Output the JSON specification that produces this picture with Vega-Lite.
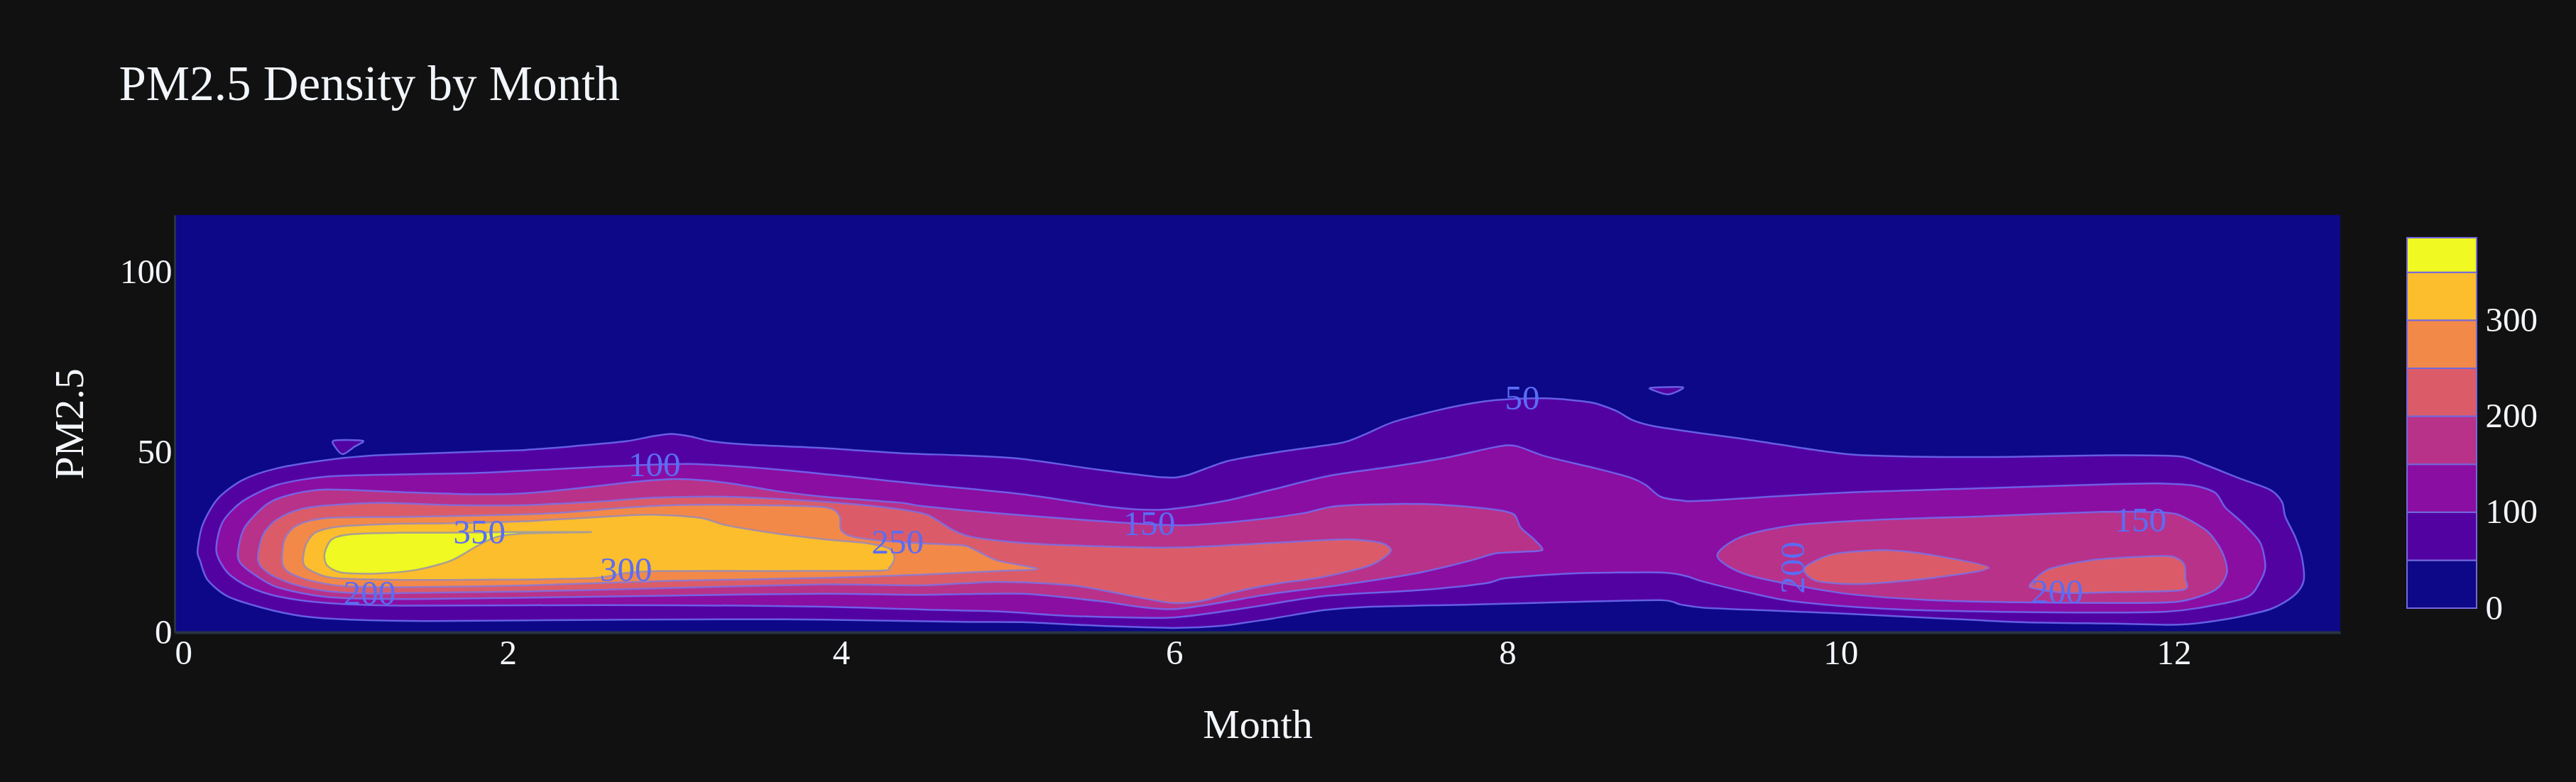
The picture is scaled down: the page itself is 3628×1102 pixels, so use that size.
{
  "$schema": "https://vega.github.io/schema/vega-lite/v6.json",
  "background": "#111111",
  "padding": {"left": 70, "top": 86, "right": 55, "bottom": 51},
  "title": {
    "text": "PM2.5 Density by Month",
    "anchor": "start",
    "frame": "bounds",
    "dx": 97,
    "offset": 148,
    "font": "Liberation Serif",
    "fontSize": 69,
    "fontWeight": "normal",
    "color": "#f2f5fa"
  },
  "datasets": {
    "contours": [
      {"level": 50, "piece": "a", "i": 0, "month": 0.137, "pm25": 22.5},
      {"level": 50, "piece": "a", "i": 1, "month": 0.167, "pm25": 29.7},
      {"level": 50, "piece": "a", "i": 2, "month": 0.256, "pm25": 36.9},
      {"level": 50, "piece": "a", "i": 3, "month": 0.406, "pm25": 42.2},
      {"level": 50, "piece": "a", "i": 4, "month": 0.615, "pm25": 45.5},
      {"level": 50, "piece": "a", "i": 5, "month": 0.914, "pm25": 47.8},
      {"level": 50, "piece": "a", "i": 6, "month": 1.213, "pm25": 49.1},
      {"level": 50, "piece": "a", "i": 7, "month": 1.512, "pm25": 49.6},
      {"level": 50, "piece": "a", "i": 8, "month": 1.81, "pm25": 50.1},
      {"level": 50, "piece": "a", "i": 9, "month": 2.11, "pm25": 50.6},
      {"level": 50, "piece": "a", "i": 10, "month": 2.41, "pm25": 51.7},
      {"level": 50, "piece": "a", "i": 11, "month": 2.71, "pm25": 53.0},
      {"level": 50, "piece": "a", "i": 12, "month": 2.86, "pm25": 54.3},
      {"level": 50, "piece": "a", "i": 13, "month": 2.98, "pm25": 55.0},
      {"level": 50, "piece": "a", "i": 14, "month": 3.10, "pm25": 54.3},
      {"level": 50, "piece": "a", "i": 15, "month": 3.22, "pm25": 53.0},
      {"level": 50, "piece": "a", "i": 16, "month": 3.46, "pm25": 52.0},
      {"level": 50, "piece": "a", "i": 17, "month": 3.90, "pm25": 51.1},
      {"level": 50, "piece": "a", "i": 18, "month": 4.35, "pm25": 49.7},
      {"level": 50, "piece": "a", "i": 19, "month": 4.71, "pm25": 49.1},
      {"level": 50, "piece": "a", "i": 20, "month": 5.07, "pm25": 48.2},
      {"level": 50, "piece": "a", "i": 21, "month": 5.50, "pm25": 45.4},
      {"level": 50, "piece": "a", "i": 22, "month": 5.93, "pm25": 43.0},
      {"level": 50, "piece": "a", "i": 23, "month": 6.08, "pm25": 43.6},
      {"level": 50, "piece": "a", "i": 24, "month": 6.32, "pm25": 47.5},
      {"level": 50, "piece": "a", "i": 25, "month": 6.65, "pm25": 50.2},
      {"level": 50, "piece": "a", "i": 26, "month": 7.0, "pm25": 52.5},
      {"level": 50, "piece": "a", "i": 27, "month": 7.15, "pm25": 55.0},
      {"level": 50, "piece": "a", "i": 28, "month": 7.32, "pm25": 58.4},
      {"level": 50, "piece": "a", "i": 29, "month": 7.64, "pm25": 62.2},
      {"level": 50, "piece": "a", "i": 30, "month": 7.93, "pm25": 64.4},
      {"level": 50, "piece": "a", "i": 31, "month": 8.23, "pm25": 64.9},
      {"level": 50, "piece": "a", "i": 32, "month": 8.50, "pm25": 63.8},
      {"level": 50, "piece": "a", "i": 33, "month": 8.65, "pm25": 61.5},
      {"level": 50, "piece": "a", "i": 34, "month": 8.75, "pm25": 58.9},
      {"level": 50, "piece": "a", "i": 35, "month": 8.88, "pm25": 57.2},
      {"level": 50, "piece": "a", "i": 36, "month": 9.18, "pm25": 55.1},
      {"level": 50, "piece": "a", "i": 37, "month": 9.45, "pm25": 53.4},
      {"level": 50, "piece": "a", "i": 38, "month": 9.86, "pm25": 50.5},
      {"level": 50, "piece": "a", "i": 39, "month": 10.13, "pm25": 49.1},
      {"level": 50, "piece": "a", "i": 40, "month": 10.81, "pm25": 48.6},
      {"level": 50, "piece": "a", "i": 41, "month": 11.63, "pm25": 49.1},
      {"level": 50, "piece": "a", "i": 42, "month": 12.03, "pm25": 48.8},
      {"level": 50, "piece": "a", "i": 43, "month": 12.17, "pm25": 46.8},
      {"level": 50, "piece": "a", "i": 44, "month": 12.39, "pm25": 42.8},
      {"level": 50, "piece": "a", "i": 45, "month": 12.58, "pm25": 39.5},
      {"level": 50, "piece": "a", "i": 46, "month": 12.65, "pm25": 36.2},
      {"level": 50, "piece": "a", "i": 47, "month": 12.67, "pm25": 32.1},
      {"level": 50, "piece": "a", "i": 48, "month": 12.73, "pm25": 26.4},
      {"level": 50, "piece": "a", "i": 49, "month": 12.77, "pm25": 20.7},
      {"level": 50, "piece": "a", "i": 50, "month": 12.78, "pm25": 14.2},
      {"level": 50, "piece": "a", "i": 51, "month": 12.72, "pm25": 10.1},
      {"level": 50, "piece": "a", "i": 52, "month": 12.58, "pm25": 6.4},
      {"level": 50, "piece": "a", "i": 53, "month": 12.31, "pm25": 3.6},
      {"level": 50, "piece": "a", "i": 54, "month": 12.03, "pm25": 2.1},
      {"level": 50, "piece": "a", "i": 55, "month": 11.63, "pm25": 2.4},
      {"level": 50, "piece": "a", "i": 56, "month": 11.08, "pm25": 2.8},
      {"level": 50, "piece": "a", "i": 57, "month": 10.54, "pm25": 4.0},
      {"level": 50, "piece": "a", "i": 58, "month": 10.0, "pm25": 5.2},
      {"level": 50, "piece": "a", "i": 59, "month": 9.59, "pm25": 6.0},
      {"level": 50, "piece": "a", "i": 60, "month": 9.18, "pm25": 6.8},
      {"level": 50, "piece": "a", "i": 61, "month": 9.04, "pm25": 7.7},
      {"level": 50, "piece": "a", "i": 62, "month": 8.92, "pm25": 8.9},
      {"level": 50, "piece": "a", "i": 63, "month": 8.38, "pm25": 8.4},
      {"level": 50, "piece": "a", "i": 64, "month": 7.78, "pm25": 7.7},
      {"level": 50, "piece": "a", "i": 65, "month": 7.18, "pm25": 7.1},
      {"level": 50, "piece": "a", "i": 66, "month": 6.89, "pm25": 6.1},
      {"level": 50, "piece": "a", "i": 67, "month": 6.59, "pm25": 3.8},
      {"level": 50, "piece": "a", "i": 68, "month": 6.29, "pm25": 1.8},
      {"level": 50, "piece": "a", "i": 69, "month": 5.99, "pm25": 1.2},
      {"level": 50, "piece": "a", "i": 70, "month": 5.54, "pm25": 1.8},
      {"level": 50, "piece": "a", "i": 71, "month": 5.09, "pm25": 2.8},
      {"level": 50, "piece": "a", "i": 72, "month": 4.71, "pm25": 2.9},
      {"level": 50, "piece": "a", "i": 73, "month": 3.90, "pm25": 3.5},
      {"level": 50, "piece": "a", "i": 74, "month": 3.31, "pm25": 3.6},
      {"level": 50, "piece": "a", "i": 75, "month": 2.71, "pm25": 3.5},
      {"level": 50, "piece": "a", "i": 76, "month": 2.11, "pm25": 3.3},
      {"level": 50, "piece": "a", "i": 77, "month": 1.51, "pm25": 3.1},
      {"level": 50, "piece": "a", "i": 78, "month": 1.06, "pm25": 3.5},
      {"level": 50, "piece": "a", "i": 79, "month": 0.765, "pm25": 4.5},
      {"level": 50, "piece": "a", "i": 80, "month": 0.526, "pm25": 6.8},
      {"level": 50, "piece": "a", "i": 81, "month": 0.316, "pm25": 10.0},
      {"level": 50, "piece": "a", "i": 82, "month": 0.196, "pm25": 14.6},
      {"level": 50, "piece": "a", "i": 83, "month": 0.152, "pm25": 19.9},
      {"level": 50, "piece": "b", "i": 0, "month": 0.957, "pm25": 53.2},
      {"level": 50, "piece": "b", "i": 1, "month": 1.13, "pm25": 53.1},
      {"level": 50, "piece": "b", "i": 2, "month": 1.08, "pm25": 51.5},
      {"level": 50, "piece": "b", "i": 3, "month": 1.01, "pm25": 49.4},
      {"level": 50, "piece": "b", "i": 4, "month": 0.965, "pm25": 51.3},
      {"level": 50, "piece": "c", "i": 0, "month": 8.86, "pm25": 67.8},
      {"level": 50, "piece": "c", "i": 1, "month": 9.05, "pm25": 68.0},
      {"level": 50, "piece": "c", "i": 2, "month": 9.02, "pm25": 66.8},
      {"level": 50, "piece": "c", "i": 3, "month": 8.96, "pm25": 66.0},
      {"level": 50, "piece": "c", "i": 4, "month": 8.89, "pm25": 66.9},
      {"level": 100, "piece": "a", "i": 0, "month": 0.25, "pm25": 22.5},
      {"level": 100, "piece": "a", "i": 1, "month": 0.286, "pm25": 30.4},
      {"level": 100, "piece": "a", "i": 2, "month": 0.406, "pm25": 36.3},
      {"level": 100, "piece": "a", "i": 3, "month": 0.615, "pm25": 40.9},
      {"level": 100, "piece": "a", "i": 4, "month": 0.914, "pm25": 43.2},
      {"level": 100, "piece": "a", "i": 5, "month": 1.363, "pm25": 43.8},
      {"level": 100, "piece": "a", "i": 6, "month": 1.81, "pm25": 44.2},
      {"level": 100, "piece": "a", "i": 7, "month": 2.26, "pm25": 45.2},
      {"level": 100, "piece": "a", "i": 8, "month": 2.65, "pm25": 46.1},
      {"level": 100, "piece": "a", "i": 9, "month": 3.10, "pm25": 46.7},
      {"level": 100, "piece": "a", "i": 10, "month": 3.61, "pm25": 45.2},
      {"level": 100, "piece": "a", "i": 11, "month": 4.05, "pm25": 43.2},
      {"level": 100, "piece": "a", "i": 12, "month": 4.50, "pm25": 41.0},
      {"level": 100, "piece": "a", "i": 13, "month": 5.09, "pm25": 38.3},
      {"level": 100, "piece": "a", "i": 14, "month": 5.63, "pm25": 34.7},
      {"level": 100, "piece": "a", "i": 15, "month": 5.93, "pm25": 34.0},
      {"level": 100, "piece": "a", "i": 16, "month": 6.29, "pm25": 36.3},
      {"level": 100, "piece": "a", "i": 17, "month": 6.59, "pm25": 39.6},
      {"level": 100, "piece": "a", "i": 18, "month": 6.94, "pm25": 43.5},
      {"level": 100, "piece": "a", "i": 19, "month": 7.33, "pm25": 46.1},
      {"level": 100, "piece": "a", "i": 20, "month": 7.63, "pm25": 48.4},
      {"level": 100, "piece": "a", "i": 21, "month": 7.93, "pm25": 51.4},
      {"level": 100, "piece": "a", "i": 22, "month": 8.05, "pm25": 51.7},
      {"level": 100, "piece": "a", "i": 23, "month": 8.23, "pm25": 48.8},
      {"level": 100, "piece": "a", "i": 24, "month": 8.53, "pm25": 45.5},
      {"level": 100, "piece": "a", "i": 25, "month": 8.74, "pm25": 42.9},
      {"level": 100, "piece": "a", "i": 26, "month": 8.83, "pm25": 40.9},
      {"level": 100, "piece": "a", "i": 27, "month": 8.92, "pm25": 37.6},
      {"level": 100, "piece": "a", "i": 28, "month": 9.04, "pm25": 36.6},
      {"level": 100, "piece": "a", "i": 29, "month": 9.18, "pm25": 36.5},
      {"level": 100, "piece": "a", "i": 30, "month": 10.0, "pm25": 38.7},
      {"level": 100, "piece": "a", "i": 31, "month": 10.81, "pm25": 39.9},
      {"level": 100, "piece": "a", "i": 32, "month": 11.63, "pm25": 41.1},
      {"level": 100, "piece": "a", "i": 33, "month": 11.90, "pm25": 41.3},
      {"level": 100, "piece": "a", "i": 34, "month": 12.12, "pm25": 40.7},
      {"level": 100, "piece": "a", "i": 35, "month": 12.25, "pm25": 38.7},
      {"level": 100, "piece": "a", "i": 36, "month": 12.31, "pm25": 34.6},
      {"level": 100, "piece": "a", "i": 37, "month": 12.41, "pm25": 30.5},
      {"level": 100, "piece": "a", "i": 38, "month": 12.52, "pm25": 24.8},
      {"level": 100, "piece": "a", "i": 39, "month": 12.55, "pm25": 18.3},
      {"level": 100, "piece": "a", "i": 40, "month": 12.52, "pm25": 14.2},
      {"level": 100, "piece": "a", "i": 41, "month": 12.44, "pm25": 9.7},
      {"level": 100, "piece": "a", "i": 42, "month": 12.17, "pm25": 6.9},
      {"level": 100, "piece": "a", "i": 43, "month": 11.90, "pm25": 5.6},
      {"level": 100, "piece": "a", "i": 44, "month": 11.08, "pm25": 5.6},
      {"level": 100, "piece": "a", "i": 45, "month": 10.27, "pm25": 6.5},
      {"level": 100, "piece": "a", "i": 46, "month": 9.73, "pm25": 8.5},
      {"level": 100, "piece": "a", "i": 47, "month": 9.45, "pm25": 11.0},
      {"level": 100, "piece": "a", "i": 48, "month": 9.18, "pm25": 14.0},
      {"level": 100, "piece": "a", "i": 49, "month": 9.07, "pm25": 15.6},
      {"level": 100, "piece": "a", "i": 50, "month": 8.92, "pm25": 16.6},
      {"level": 100, "piece": "a", "i": 51, "month": 8.38, "pm25": 16.3},
      {"level": 100, "piece": "a", "i": 52, "month": 7.99, "pm25": 15.0},
      {"level": 100, "piece": "a", "i": 53, "month": 7.87, "pm25": 13.6},
      {"level": 100, "piece": "a", "i": 54, "month": 7.48, "pm25": 11.7},
      {"level": 100, "piece": "a", "i": 55, "month": 6.89, "pm25": 10.0},
      {"level": 100, "piece": "a", "i": 56, "month": 6.44, "pm25": 6.8},
      {"level": 100, "piece": "a", "i": 57, "month": 5.99, "pm25": 4.1},
      {"level": 100, "piece": "a", "i": 58, "month": 5.39, "pm25": 4.5},
      {"level": 100, "piece": "a", "i": 59, "month": 4.94, "pm25": 5.8},
      {"level": 100, "piece": "a", "i": 60, "month": 4.49, "pm25": 6.3},
      {"level": 100, "piece": "a", "i": 61, "month": 3.90, "pm25": 7.1},
      {"level": 100, "piece": "a", "i": 62, "month": 3.01, "pm25": 7.5},
      {"level": 100, "piece": "a", "i": 63, "month": 2.11, "pm25": 7.5},
      {"level": 100, "piece": "a", "i": 64, "month": 1.36, "pm25": 7.4},
      {"level": 100, "piece": "a", "i": 65, "month": 0.914, "pm25": 8.1},
      {"level": 100, "piece": "a", "i": 66, "month": 0.615, "pm25": 10.0},
      {"level": 100, "piece": "a", "i": 67, "month": 0.44, "pm25": 12.7},
      {"level": 100, "piece": "a", "i": 68, "month": 0.316, "pm25": 16.6},
      {"level": 150, "piece": "a", "i": 0, "month": 0.38, "pm25": 22.5},
      {"level": 150, "piece": "a", "i": 1, "month": 0.42, "pm25": 29.1},
      {"level": 150, "piece": "a", "i": 2, "month": 0.555, "pm25": 35.6},
      {"level": 150, "piece": "a", "i": 3, "month": 0.705, "pm25": 38.3},
      {"level": 150, "piece": "a", "i": 4, "month": 0.914, "pm25": 39.6},
      {"level": 150, "piece": "a", "i": 5, "month": 1.363, "pm25": 38.9},
      {"level": 150, "piece": "a", "i": 6, "month": 1.81, "pm25": 38.3},
      {"level": 150, "piece": "a", "i": 7, "month": 2.11, "pm25": 38.6},
      {"level": 150, "piece": "a", "i": 8, "month": 2.41, "pm25": 39.9},
      {"level": 150, "piece": "a", "i": 9, "month": 2.71, "pm25": 41.5},
      {"level": 150, "piece": "a", "i": 10, "month": 3.01, "pm25": 42.5},
      {"level": 150, "piece": "a", "i": 11, "month": 3.31, "pm25": 41.5},
      {"level": 150, "piece": "a", "i": 12, "month": 3.61, "pm25": 39.2},
      {"level": 150, "piece": "a", "i": 13, "month": 3.90, "pm25": 37.6},
      {"level": 150, "piece": "a", "i": 14, "month": 4.35, "pm25": 36.0},
      {"level": 150, "piece": "a", "i": 15, "month": 4.49, "pm25": 35.0},
      {"level": 150, "piece": "a", "i": 16, "month": 4.94, "pm25": 33.0},
      {"level": 150, "piece": "a", "i": 17, "month": 5.39, "pm25": 31.4},
      {"level": 150, "piece": "a", "i": 18, "month": 5.69, "pm25": 30.4},
      {"level": 150, "piece": "a", "i": 19, "month": 6.05, "pm25": 29.7},
      {"level": 150, "piece": "a", "i": 20, "month": 6.44, "pm25": 31.0},
      {"level": 150, "piece": "a", "i": 21, "month": 6.77, "pm25": 33.0},
      {"level": 150, "piece": "a", "i": 22, "month": 6.97, "pm25": 35.0},
      {"level": 150, "piece": "a", "i": 23, "month": 7.33, "pm25": 35.6},
      {"level": 150, "piece": "a", "i": 24, "month": 7.63, "pm25": 35.3},
      {"level": 150, "piece": "a", "i": 25, "month": 7.93, "pm25": 34.0},
      {"level": 150, "piece": "a", "i": 26, "month": 8.04, "pm25": 32.7},
      {"level": 150, "piece": "a", "i": 27, "month": 8.08, "pm25": 29.1},
      {"level": 150, "piece": "a", "i": 28, "month": 8.16, "pm25": 25.8},
      {"level": 150, "piece": "a", "i": 29, "month": 8.21, "pm25": 22.8},
      {"level": 150, "piece": "a", "i": 30, "month": 8.08, "pm25": 22.3},
      {"level": 150, "piece": "a", "i": 31, "month": 7.93, "pm25": 21.9},
      {"level": 150, "piece": "a", "i": 32, "month": 7.78, "pm25": 19.9},
      {"level": 150, "piece": "a", "i": 33, "month": 7.48, "pm25": 16.6},
      {"level": 150, "piece": "a", "i": 34, "month": 7.03, "pm25": 13.3},
      {"level": 150, "piece": "a", "i": 35, "month": 6.59, "pm25": 10.7},
      {"level": 150, "piece": "a", "i": 36, "month": 5.99, "pm25": 6.4},
      {"level": 150, "piece": "a", "i": 37, "month": 5.54, "pm25": 8.7},
      {"level": 150, "piece": "a", "i": 38, "month": 5.09, "pm25": 10.7},
      {"level": 150, "piece": "a", "i": 39, "month": 4.49, "pm25": 10.4},
      {"level": 150, "piece": "a", "i": 40, "month": 3.90, "pm25": 10.7},
      {"level": 150, "piece": "a", "i": 41, "month": 3.01, "pm25": 10.2},
      {"level": 150, "piece": "a", "i": 42, "month": 2.11, "pm25": 9.6},
      {"level": 150, "piece": "a", "i": 43, "month": 1.36, "pm25": 9.2},
      {"level": 150, "piece": "a", "i": 44, "month": 0.914, "pm25": 9.8},
      {"level": 150, "piece": "a", "i": 45, "month": 0.615, "pm25": 12.5},
      {"level": 150, "piece": "a", "i": 46, "month": 0.46, "pm25": 16.6},
      {"level": 150, "piece": "a", "i": 47, "month": 0.39, "pm25": 19.5},
      {"level": 150, "piece": "b", "i": 0, "month": 9.26, "pm25": 21.1},
      {"level": 150, "piece": "b", "i": 1, "month": 9.40, "pm25": 26.4},
      {"level": 150, "piece": "b", "i": 2, "month": 9.72, "pm25": 29.7},
      {"level": 150, "piece": "b", "i": 3, "month": 10.27, "pm25": 31.3},
      {"level": 150, "piece": "b", "i": 4, "month": 10.81, "pm25": 32.1},
      {"level": 150, "piece": "b", "i": 5, "month": 11.57, "pm25": 33.4},
      {"level": 150, "piece": "b", "i": 6, "month": 11.9, "pm25": 33.3},
      {"level": 150, "piece": "b", "i": 7, "month": 12.03, "pm25": 32.6},
      {"level": 150, "piece": "b", "i": 8, "month": 12.20, "pm25": 28.1},
      {"level": 150, "piece": "b", "i": 9, "month": 12.29, "pm25": 22.4},
      {"level": 150, "piece": "b", "i": 10, "month": 12.32, "pm25": 16.6},
      {"level": 150, "piece": "b", "i": 11, "month": 12.25, "pm25": 11.8},
      {"level": 150, "piece": "b", "i": 12, "month": 12.03, "pm25": 8.5},
      {"level": 150, "piece": "b", "i": 13, "month": 11.63, "pm25": 8.1},
      {"level": 150, "piece": "b", "i": 14, "month": 11.08, "pm25": 8.3},
      {"level": 150, "piece": "b", "i": 15, "month": 10.54, "pm25": 8.9},
      {"level": 150, "piece": "b", "i": 16, "month": 10.0, "pm25": 10.9},
      {"level": 150, "piece": "b", "i": 17, "month": 9.45, "pm25": 15.8},
      {"level": 200, "piece": "a", "i": 0, "month": 0.50, "pm25": 20.0},
      {"level": 200, "piece": "a", "i": 1, "month": 0.53, "pm25": 27.0},
      {"level": 200, "piece": "a", "i": 2, "month": 0.62, "pm25": 31.5},
      {"level": 200, "piece": "a", "i": 3, "month": 0.80, "pm25": 34.6},
      {"level": 200, "piece": "a", "i": 4, "month": 1.2, "pm25": 35.9},
      {"level": 200, "piece": "a", "i": 5, "month": 1.66, "pm25": 35.3},
      {"level": 200, "piece": "a", "i": 6, "month": 2.11, "pm25": 35.3},
      {"level": 200, "piece": "a", "i": 7, "month": 2.56, "pm25": 36.3},
      {"level": 200, "piece": "a", "i": 8, "month": 2.86, "pm25": 37.3},
      {"level": 200, "piece": "a", "i": 9, "month": 3.31, "pm25": 37.6},
      {"level": 200, "piece": "a", "i": 10, "month": 3.76, "pm25": 36.6},
      {"level": 200, "piece": "a", "i": 11, "month": 4.2, "pm25": 35.0},
      {"level": 200, "piece": "a", "i": 12, "month": 4.49, "pm25": 33.0},
      {"level": 200, "piece": "a", "i": 13, "month": 4.58, "pm25": 31.0},
      {"level": 200, "piece": "a", "i": 14, "month": 4.67, "pm25": 28.4},
      {"level": 200, "piece": "a", "i": 15, "month": 4.79, "pm25": 26.4},
      {"level": 200, "piece": "a", "i": 16, "month": 5.09, "pm25": 24.8},
      {"level": 200, "piece": "a", "i": 17, "month": 5.39, "pm25": 24.1},
      {"level": 200, "piece": "a", "i": 18, "month": 5.99, "pm25": 23.5},
      {"level": 200, "piece": "a", "i": 19, "month": 6.59, "pm25": 24.8},
      {"level": 200, "piece": "a", "i": 20, "month": 7.03, "pm25": 25.8},
      {"level": 200, "piece": "a", "i": 21, "month": 7.24, "pm25": 24.8},
      {"level": 200, "piece": "a", "i": 22, "month": 7.30, "pm25": 22.5},
      {"level": 200, "piece": "a", "i": 23, "month": 7.18, "pm25": 18.6},
      {"level": 200, "piece": "a", "i": 24, "month": 6.89, "pm25": 15.3},
      {"level": 200, "piece": "a", "i": 25, "month": 6.59, "pm25": 13.3},
      {"level": 200, "piece": "a", "i": 26, "month": 6.35, "pm25": 11.0},
      {"level": 200, "piece": "a", "i": 27, "month": 6.17, "pm25": 8.7},
      {"level": 200, "piece": "a", "i": 28, "month": 5.99, "pm25": 8.1},
      {"level": 200, "piece": "a", "i": 29, "month": 5.75, "pm25": 10.0},
      {"level": 200, "piece": "a", "i": 30, "month": 5.39, "pm25": 13.0},
      {"level": 200, "piece": "a", "i": 31, "month": 4.94, "pm25": 14.0},
      {"level": 200, "piece": "a", "i": 32, "month": 4.49, "pm25": 13.0},
      {"level": 200, "piece": "a", "i": 33, "month": 3.90, "pm25": 13.3},
      {"level": 200, "piece": "a", "i": 34, "month": 3.0, "pm25": 12.3},
      {"level": 200, "piece": "a", "i": 35, "month": 2.11, "pm25": 11.3},
      {"level": 200, "piece": "a", "i": 36, "month": 1.36, "pm25": 10.9},
      {"level": 200, "piece": "a", "i": 37, "month": 1.17, "pm25": 10.7},
      {"level": 200, "piece": "a", "i": 38, "month": 0.9, "pm25": 11.5},
      {"level": 200, "piece": "a", "i": 39, "month": 0.7, "pm25": 13.5},
      {"level": 200, "piece": "a", "i": 40, "month": 0.56, "pm25": 16.5},
      {"level": 200, "piece": "b", "i": 0, "month": 9.78, "pm25": 17.5},
      {"level": 200, "piece": "b", "i": 1, "month": 9.88, "pm25": 20.5},
      {"level": 200, "piece": "b", "i": 2, "month": 10.0, "pm25": 22.0},
      {"level": 200, "piece": "b", "i": 3, "month": 10.27, "pm25": 22.8},
      {"level": 200, "piece": "b", "i": 4, "month": 10.54, "pm25": 21.5},
      {"level": 200, "piece": "b", "i": 5, "month": 10.89, "pm25": 17.9},
      {"level": 200, "piece": "b", "i": 6, "month": 10.54, "pm25": 15.0},
      {"level": 200, "piece": "b", "i": 7, "month": 10.13, "pm25": 13.4},
      {"level": 200, "piece": "b", "i": 8, "month": 9.86, "pm25": 14.2},
      {"level": 200, "piece": "c", "i": 0, "month": 11.14, "pm25": 13.4},
      {"level": 200, "piece": "c", "i": 1, "month": 11.25, "pm25": 17.5},
      {"level": 200, "piece": "c", "i": 2, "month": 11.49, "pm25": 19.9},
      {"level": 200, "piece": "c", "i": 3, "month": 11.77, "pm25": 20.9},
      {"level": 200, "piece": "c", "i": 4, "month": 11.98, "pm25": 21.1},
      {"level": 200, "piece": "c", "i": 5, "month": 12.06, "pm25": 19.1},
      {"level": 200, "piece": "c", "i": 6, "month": 12.07, "pm25": 15.0},
      {"level": 200, "piece": "c", "i": 7, "month": 12.05, "pm25": 11.7},
      {"level": 200, "piece": "c", "i": 8, "month": 11.63, "pm25": 11.1},
      {"level": 200, "piece": "c", "i": 9, "month": 11.36, "pm25": 10.9},
      {"level": 200, "piece": "c", "i": 10, "month": 11.16, "pm25": 12.2},
      {"level": 250, "piece": "a", "i": 0, "month": 0.645, "pm25": 19.5},
      {"level": 250, "piece": "a", "i": 1, "month": 0.66, "pm25": 25.8},
      {"level": 250, "piece": "a", "i": 2, "month": 0.735, "pm25": 29.7},
      {"level": 250, "piece": "a", "i": 3, "month": 0.914, "pm25": 31.7},
      {"level": 250, "piece": "a", "i": 4, "month": 1.36, "pm25": 32.0},
      {"level": 250, "piece": "a", "i": 5, "month": 1.81, "pm25": 32.4},
      {"level": 250, "piece": "a", "i": 6, "month": 2.26, "pm25": 33.0},
      {"level": 250, "piece": "a", "i": 7, "month": 2.71, "pm25": 34.6},
      {"level": 250, "piece": "a", "i": 8, "month": 3.01, "pm25": 35.3},
      {"level": 250, "piece": "a", "i": 9, "month": 3.46, "pm25": 35.3},
      {"level": 250, "piece": "a", "i": 10, "month": 3.90, "pm25": 34.7},
      {"level": 250, "piece": "a", "i": 11, "month": 3.99, "pm25": 32.4},
      {"level": 250, "piece": "a", "i": 12, "month": 4.0, "pm25": 28.4},
      {"level": 250, "piece": "a", "i": 13, "month": 4.08, "pm25": 26.4},
      {"level": 250, "piece": "a", "i": 14, "month": 4.35, "pm25": 25.0},
      {"level": 250, "piece": "a", "i": 15, "month": 4.71, "pm25": 24.2},
      {"level": 250, "piece": "a", "i": 16, "month": 4.79, "pm25": 23.2},
      {"level": 250, "piece": "a", "i": 17, "month": 4.94, "pm25": 19.9},
      {"level": 250, "piece": "a", "i": 18, "month": 5.18, "pm25": 17.6},
      {"level": 250, "piece": "a", "i": 19, "month": 4.94, "pm25": 17.0},
      {"level": 250, "piece": "a", "i": 20, "month": 4.49, "pm25": 16.0},
      {"level": 250, "piece": "a", "i": 21, "month": 3.9, "pm25": 15.1},
      {"level": 250, "piece": "a", "i": 22, "month": 3.0, "pm25": 14.3},
      {"level": 250, "piece": "a", "i": 23, "month": 2.11, "pm25": 13.0},
      {"level": 250, "piece": "a", "i": 24, "month": 1.36, "pm25": 12.5},
      {"level": 250, "piece": "a", "i": 25, "month": 1.0, "pm25": 12.9},
      {"level": 250, "piece": "a", "i": 26, "month": 0.8, "pm25": 14.5},
      {"level": 250, "piece": "a", "i": 27, "month": 0.68, "pm25": 16.8},
      {"level": 300, "piece": "a", "i": 0, "month": 0.77, "pm25": 20.0},
      {"level": 300, "piece": "a", "i": 1, "month": 0.79, "pm25": 24.5},
      {"level": 300, "piece": "a", "i": 2, "month": 0.85, "pm25": 27.8},
      {"level": 300, "piece": "a", "i": 3, "month": 1.0, "pm25": 29.4},
      {"level": 300, "piece": "a", "i": 4, "month": 1.36, "pm25": 30.1},
      {"level": 300, "piece": "a", "i": 5, "month": 1.63, "pm25": 30.2},
      {"level": 300, "piece": "a", "i": 6, "month": 2.05, "pm25": 30.7},
      {"level": 300, "piece": "a", "i": 7, "month": 2.41, "pm25": 31.6},
      {"level": 300, "piece": "a", "i": 8, "month": 2.71, "pm25": 32.4},
      {"level": 300, "piece": "a", "i": 9, "month": 2.89, "pm25": 32.6},
      {"level": 300, "piece": "a", "i": 10, "month": 3.16, "pm25": 31.7},
      {"level": 300, "piece": "a", "i": 11, "month": 3.31, "pm25": 29.7},
      {"level": 300, "piece": "a", "i": 12, "month": 3.61, "pm25": 27.4},
      {"level": 300, "piece": "a", "i": 13, "month": 3.90, "pm25": 25.8},
      {"level": 300, "piece": "a", "i": 14, "month": 4.14, "pm25": 24.8},
      {"level": 300, "piece": "a", "i": 15, "month": 4.29, "pm25": 23.2},
      {"level": 300, "piece": "a", "i": 16, "month": 4.32, "pm25": 20.5},
      {"level": 300, "piece": "a", "i": 17, "month": 4.29, "pm25": 17.9},
      {"level": 300, "piece": "a", "i": 18, "month": 4.23, "pm25": 17.1},
      {"level": 300, "piece": "a", "i": 19, "month": 3.61, "pm25": 17.0},
      {"level": 300, "piece": "a", "i": 20, "month": 2.92, "pm25": 17.0},
      {"level": 300, "piece": "a", "i": 21, "month": 2.7, "pm25": 16.4},
      {"level": 300, "piece": "a", "i": 22, "month": 2.5, "pm25": 15.0},
      {"level": 300, "piece": "a", "i": 23, "month": 1.9, "pm25": 14.6},
      {"level": 300, "piece": "a", "i": 24, "month": 1.39, "pm25": 14.5},
      {"level": 300, "piece": "a", "i": 25, "month": 1.0, "pm25": 14.9},
      {"level": 300, "piece": "a", "i": 26, "month": 0.88, "pm25": 15.8},
      {"level": 300, "piece": "a", "i": 27, "month": 0.79, "pm25": 17.9},
      {"level": 350, "piece": "a", "i": 0, "month": 0.90, "pm25": 21.9},
      {"level": 350, "piece": "a", "i": 1, "month": 0.944, "pm25": 25.8},
      {"level": 350, "piece": "a", "i": 2, "month": 1.063, "pm25": 27.2},
      {"level": 350, "piece": "a", "i": 3, "month": 1.363, "pm25": 27.6},
      {"level": 350, "piece": "a", "i": 4, "month": 1.63, "pm25": 27.6},
      {"level": 350, "piece": "a", "i": 5, "month": 2.02, "pm25": 27.8},
      {"level": 350, "piece": "a", "i": 6, "month": 2.50, "pm25": 27.8},
      {"level": 350, "piece": "a", "i": 7, "month": 2.11, "pm25": 27.45},
      {"level": 350, "piece": "a", "i": 8, "month": 1.93, "pm25": 26.4},
      {"level": 350, "piece": "a", "i": 9, "month": 1.81, "pm25": 23.8},
      {"level": 350, "piece": "a", "i": 10, "month": 1.66, "pm25": 19.9},
      {"level": 350, "piece": "a", "i": 11, "month": 1.45, "pm25": 17.3},
      {"level": 350, "piece": "a", "i": 12, "month": 1.21, "pm25": 16.3},
      {"level": 350, "piece": "a", "i": 13, "month": 1.0, "pm25": 16.6},
      {"level": 350, "piece": "a", "i": 14, "month": 0.914, "pm25": 18.6}
    ],
    "labels": [
      {"label": "50", "month": 8.09, "pm25": 64.8},
      {"label": "100", "month": 2.88, "pm25": 46.3},
      {"label": "350", "month": 1.83, "pm25": 27.6},
      {"label": "300", "month": 2.71, "pm25": 17.1},
      {"label": "250", "month": 4.34, "pm25": 24.8},
      {"label": "200", "month": 1.17, "pm25": 10.7},
      {"label": "150", "month": 5.85, "pm25": 29.9},
      {"label": "150", "month": 11.80, "pm25": 31.0},
      {"label": "200", "month": 11.30, "pm25": 11.0}
    ],
    "bands": [
      {"lo": 0, "hi": 50},
      {"lo": 50, "hi": 100},
      {"lo": 100, "hi": 150},
      {"lo": 150, "hi": 200},
      {"lo": 200, "hi": 250},
      {"lo": 250, "hi": 300},
      {"lo": 300, "hi": 350},
      {"lo": 350, "hi": 386}
    ]
  },
  "spacing": 93,
  "hconcat": [
    {
      "width": 3050,
      "height": 588,
      "view": {"fill": "#0d0887", "stroke": null},
      "encoding": {
        "x": {
          "field": "month",
          "type": "quantitative",
          "scale": {"domain": [0, 13], "nice": false, "zero": false},
          "axis": {
            "values": [0, 2, 4, 6, 8, 10, 12],
            "title": "Month",
            "labelFontSize": 49,
            "labelPadding": 5,
            "titleFontSize": 58,
            "titlePadding": 48,
            "domain": true,
            "domainColor": "#283442",
            "domainWidth": 4
          }
        },
        "y": {
          "field": "pm25",
          "type": "quantitative",
          "scale": {"domain": [0, 115.75], "nice": false, "zero": false},
          "axis": {
            "values": [0, 50, 100],
            "title": "PM2.5",
            "labelFontSize": 49,
            "labelPadding": 4,
            "titleFontSize": 58,
            "titleBaseline": "alphabetic",
            "titlePadding": 52,
            "domain": true,
            "domainColor": "#283442",
            "domainWidth": 3
          }
        }
      },
      "layer": [
        {
          "data": {"name": "contours"},
          "transform": [{"filter": "datum.level == 50"}],
          "mark": {"type": "line", "interpolate": "cardinal-closed", "tension": 0.2, "fill": "#5302a2", "stroke": "#6f6ff2", "strokeWidth": 2.5, "strokeOpacity": 0.85, "strokeJoin": "round"},
          "encoding": {"detail": {"field": "piece"}, "order": {"field": "i", "type": "quantitative"}}
        },
        {
          "data": {"name": "contours"},
          "transform": [{"filter": "datum.level == 100"}],
          "mark": {"type": "line", "interpolate": "cardinal-closed", "tension": 0.2, "fill": "#8a0ea2", "stroke": "#6f6ff2", "strokeWidth": 2.5, "strokeOpacity": 0.85, "strokeJoin": "round"},
          "encoding": {"detail": {"field": "piece"}, "order": {"field": "i", "type": "quantitative"}}
        },
        {
          "data": {"name": "contours"},
          "transform": [{"filter": "datum.level == 150"}],
          "mark": {"type": "line", "interpolate": "cardinal-closed", "tension": 0.2, "fill": "#b83289", "stroke": "#6f6ff2", "strokeWidth": 2.5, "strokeOpacity": 0.85, "strokeJoin": "round"},
          "encoding": {"detail": {"field": "piece"}, "order": {"field": "i", "type": "quantitative"}}
        },
        {
          "data": {"name": "contours"},
          "transform": [{"filter": "datum.level == 200"}],
          "mark": {"type": "line", "interpolate": "cardinal-closed", "tension": 0.2, "fill": "#db5c68", "stroke": "#7a70e6", "strokeWidth": 2.5, "strokeOpacity": 0.85, "strokeJoin": "round"},
          "encoding": {"detail": {"field": "piece"}, "order": {"field": "i", "type": "quantitative"}}
        },
        {
          "data": {"name": "contours"},
          "transform": [{"filter": "datum.level == 250"}],
          "mark": {"type": "line", "interpolate": "cardinal-closed", "tension": 0.2, "fill": "#f38948", "stroke": "#8a7ad8", "strokeWidth": 2.5, "strokeOpacity": 0.85, "strokeJoin": "round"},
          "encoding": {"detail": {"field": "piece"}, "order": {"field": "i", "type": "quantitative"}}
        },
        {
          "data": {"name": "contours"},
          "transform": [{"filter": "datum.level == 300"}],
          "mark": {"type": "line", "interpolate": "cardinal-closed", "tension": 0.2, "fill": "#fcbe2c", "stroke": "#9a8ab8", "strokeWidth": 2.5, "strokeOpacity": 0.85, "strokeJoin": "round"},
          "encoding": {"detail": {"field": "piece"}, "order": {"field": "i", "type": "quantitative"}}
        },
        {
          "data": {"name": "contours"},
          "transform": [{"filter": "datum.level == 350"}],
          "mark": {"type": "line", "interpolate": "cardinal-closed", "tension": 0.2, "fill": "#f0f921", "stroke": "#9a94a8", "strokeWidth": 2.5, "strokeOpacity": 0.85, "strokeJoin": "round"},
          "encoding": {"detail": {"field": "piece"}, "order": {"field": "i", "type": "quantitative"}}
        },
        {
          "data": {"name": "labels"},
          "mark": {"type": "text", "font": "Liberation Serif", "fontSize": 49, "color": "#5b6cf5", "align": "center", "baseline": "middle"},
          "encoding": {"text": {"field": "label"}}
        },
        {
          "data": {"values": [{"label": "200", "month": 9.72, "pm25": 17.9}]},
          "mark": {"type": "text", "font": "Liberation Serif", "fontSize": 49, "color": "#5b6cf5", "align": "center", "baseline": "middle", "angle": 270},
          "encoding": {"text": {"field": "label"}}
        }
      ]
    },
    {
      "width": 98,
      "height": 588,
      "view": {"stroke": null},
      "data": {"name": "bands"},
      "mark": {"type": "rect", "stroke": "#7468dc", "strokeWidth": 2},
      "encoding": {
        "x": {"datum": 0, "type": "quantitative", "scale": {"domain": [0, 1], "nice": false}, "axis": null},
        "x2": {"datum": 1},
        "y": {
          "field": "lo",
          "type": "quantitative",
          "scale": {"domain": [-25.1, 409.7], "nice": false, "zero": false},
          "axis": {
            "orient": "right",
            "values": [0, 100, 200, 300],
            "title": null,
            "domain": false,
            "labelFontSize": 49,
            "labelPadding": 12
          }
        },
        "y2": {"field": "hi"},
        "fill": {
          "field": "lo",
          "type": "ordinal",
          "scale": {
            "domain": [0, 50, 100, 150, 200, 250, 300, 350],
            "range": ["#0d0887", "#5302a2", "#8a0ea2", "#b83289", "#db5c68", "#f38948", "#fcbe2c", "#f0f921"]
          },
          "legend": null
        }
      }
    }
  ],
  "config": {
    "view": {"stroke": null},
    "axis": {
      "labelFont": "Liberation Serif",
      "titleFont": "Liberation Serif",
      "labelColor": "#f2f5fa",
      "titleColor": "#f2f5fa",
      "titleFontWeight": "normal",
      "grid": false,
      "ticks": false
    }
  }
}
